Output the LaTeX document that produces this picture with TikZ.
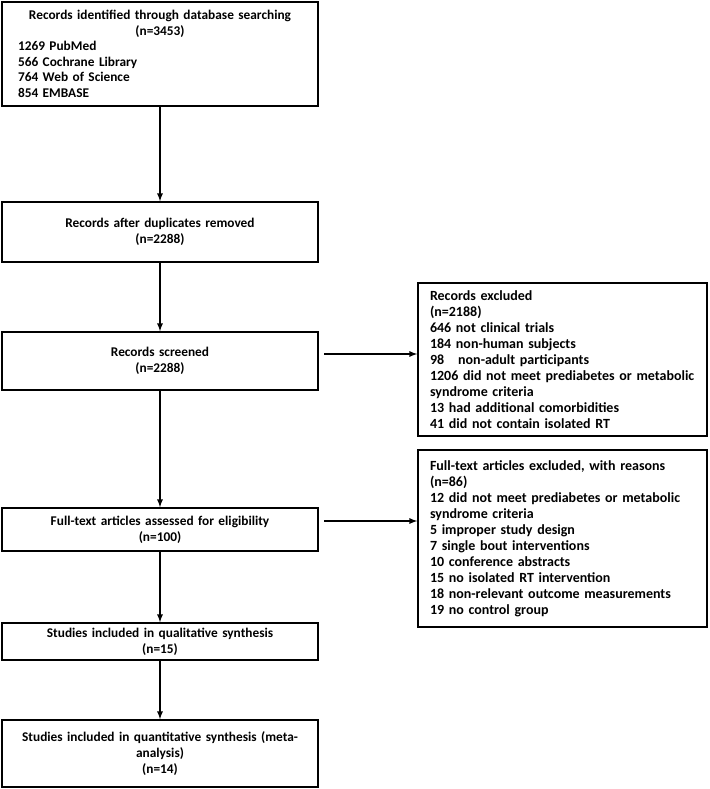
\documentclass[tikz,border=0pt]{standalone}
\usepackage{fontspec}
\setmainfont{Carlito}
\usepackage{tikz}
\usetikzlibrary{
	arrows,positioning
}

\begin{document}
\begin{tikzpicture}[x=0.75pt,y=-0.75pt,
		box/.style={draw,line width=1.2pt,minimum width=237pt,inner xsep=12pt,
			text width=213pt,align=center,font=\fontsize{10}{12}\selectfont\bfseries},
		sidebox/.style={draw,line width=1.2pt,minimum width=216.75pt,inner xsep=9pt,
			text width=198.75pt,align=left,font=\fontsize{10.5}{12}\selectfont\bfseries}]
			\useasboundingbox (0,0) rectangle (710,789);
			\node[box,minimum height=78pt,align=left,
				font=\fontsize{10}{11.6}\selectfont\bfseries] (ident) at (160,54) {%
					{\centering Records identified through database searching\\
					(n=3453)\par}
					1269 PubMed\\
					566 Cochrane Library\\
					764 Web of Science\\
					854 EMBASE}; 
			\node[box,minimum height=45pt] (dupl) at (160,232) {
					Records after duplicates removed\\ (n=2288)
			};
			\node[box,minimum height=43.5pt] (screen) at (160,361) {
					Records screened\\ (n=2288)
			};
			\node[box,minimum height=32.25pt] (full) at (160,529.5) {
					Full-text articles assessed for eligibility\\ (n=100)
			};
			\node[box,minimum height=27.75pt] (qual) at (160,641.5) {
					Studies included in qualitative synthesis\\ (n=15)
			};
			\node[box,minimum height=50.25pt] (quant) at (160,753.5) {
					Studies included in quantitative synthesis (meta-\\ analysis)\\ (n=14)
			};
			%
			\node[sidebox,minimum height=114.75pt] (excl) at (562.5,359.5) {
					Records excluded\\
					(n=2188)\\
					646 not clinical trials\\
					184 non-human subjects\\
					98\ \ \ non-adult participants\\
					1206 did not meet prediabetes or metabolic\\
					syndrome criteria\\
					13 had additional comorbidities\\
					41 did not contain isolated RT
			};
			\node[sidebox,minimum height=132.75pt] (exclft) at (562.5,538.5) {
					Full-text articles excluded, with reasons\\
					(n=86)\\
					12 did not meet prediabetes or metabolic\\
					syndrome criteria\\
					5 improper study design\\
					7 single bout interventions\\
					10 conference abstracts\\
					15 no isolated RT intervention\\
					18 non-relevant outcome measurements\\
					19 no control group
			};
			%
			\coordinate (s1) at (324,354);
			\coordinate (s2) at (324,521);
			\path[-latex,line width=1pt]
				(ident) edge (dupl)
				(dupl) edge (screen)
				(screen) edge (full)
				(full) edge (qual)
				(qual) edge (quant)
				(s1) edge (s1 -| excl.west)
				(s2) edge (s2 -| exclft.west);
		\end{tikzpicture}
\end{document}
